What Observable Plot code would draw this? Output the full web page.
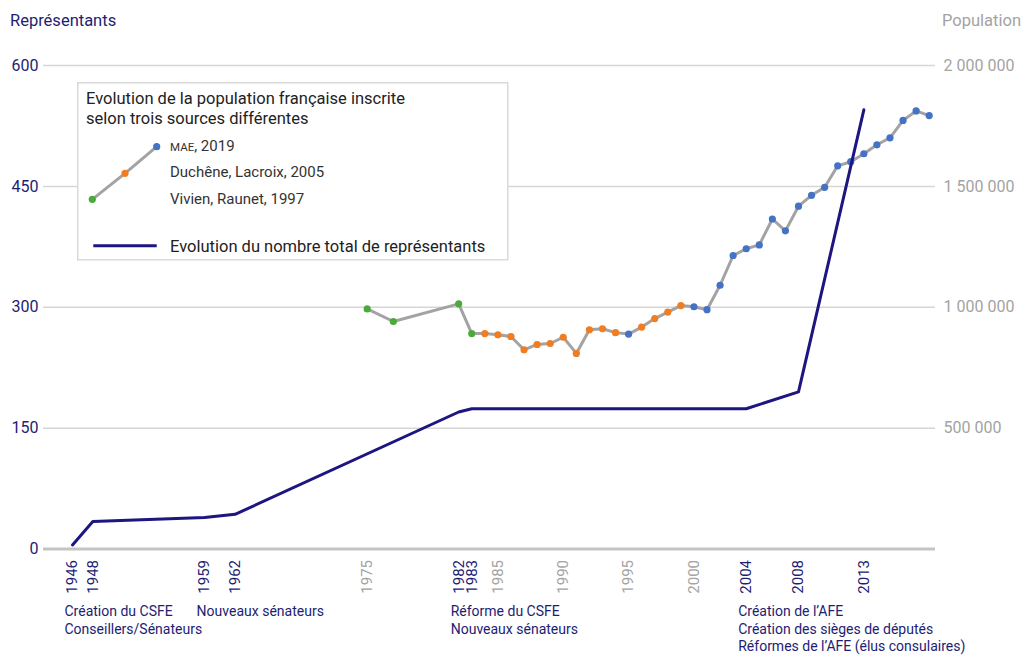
<!DOCTYPE html>
<html><head><meta charset="utf-8">
<script src="https://cdn.jsdelivr.net/npm/d3@7"></script>
<script src="https://cdn.jsdelivr.net/npm/@observablehq/plot@0.6"></script>
<style>
body{margin:0;background:#fff;font-family:Roboto,sans-serif;}
#wrap{position:relative;width:1021px;height:655px;overflow:hidden;}
.axis-title{position:absolute;top:11px;font-size:16.5px;line-height:20px;white-space:nowrap;}
#legend{position:absolute;left:77px;top:82px;}
</style></head><body><div id="wrap"></div>
<script>
// ---- data ----
const repYears  = [1946, 1948, 1959, 1962, 1982, 1983, 2004, 2008, 2013];
const repValues = [5, 34, 39, 43, 170, 174, 174, 195, 545];

const popYears = [1975, 1977, 1982, 1983, 1984, 1985, 1986, 1987, 1988, 1989, 1990, 1991, 1992, 1993, 1994, 1995,
  1996, 1997, 1998, 1999, 2000, 2001, 2002, 2003, 2004, 2005, 2006, 2007, 2008, 2009, 2010, 2011, 2012, 2013,
  2014, 2015, 2016, 2017, 2018];
const popValues = [993000, 941000, 1014000, 891000, 891000, 886000, 879000, 824000, 846000, 850000, 876000, 809000,
  907000, 911000, 895000, 889000, 918000, 953000, 980000, 1007000, 1002000, 990000, 1091000, 1214000, 1242000,
  1258000, 1365000, 1316000, 1418000, 1463000, 1496000, 1585000, 1602000, 1635000, 1672000, 1701000, 1773000,
  1812000, 1793000];
const V = "Vivien, Raunet, 1997", D = "Duchêne, Lacroix, 2005", M = "MAE, 2019";
const popSources = [V, V, V, V, D, D, D, D, D, D, D, D, D, D, D, M, D, D, D, D, M, M, M, M, M, M, M, M, M, M, M,
  M, M, M, M, M, M, M, M];

const sources = [M, D, V];
const sourceColors = ["#4472c4", "#f07d22", "#4caa3c"];

const leftTicks = [0, 150, 300, 450, 600];
const popTicks = [500000, 1000000, 1500000, 2000000];
const eventYears = [1946, 1948, 1959, 1962, 1982, 1983, 2004, 2008, 2013];
const otherYears = [1975, 1985, 1990, 1995, 2000];

const annotationYears = [1946, 1959, 1982, 2004];
const annotationTexts = [
  "Création du CSFE\nConseillers/Sénateurs",
  "Nouveaux sénateurs",
  "Réforme du CSFE\nNouveaux sénateurs",
  "Création de l’AFE\nCréation des sièges de députés\nRéformes de l’AFE (élus consulaires)"
];

// ---- build ----
const navy = "#1d1580";
const navyText = "#231d72";
const grayText = "#a3a3a3";
const popPerRep = 2000000 / 600;
const popData = popYears.map((year, i) => ({year, value: popValues[i] / popPerRep, source: popSources[i]}));
const repData = repYears.map((year, i) => ({year, value: repValues[i]}));
const annotations = annotationYears.map((year, i) => ({year, label: annotationTexts[i]}));
const fmtPop = v => d3.format(",")(Math.round(v * popPerRep)).replace(/,/g, "\u00a0");

const chart = Plot.plot({
  width: 1021, height: 655,
  marginLeft: 43, marginRight: 86, marginTop: 65, marginBottom: 106.5,
  style: {fontFamily: "Roboto, sans-serif", background: "transparent", overflow: "visible"},
  x: {type: "linear", domain: [1946, 1975, 2018], range: [72, 366.7, 928.7]},
  y: {domain: [0, 600]},
  color: {domain: sources, range: sourceColors},
  marks: [
    Plot.ruleY(leftTicks.filter(d => d > 0), {stroke: "#d6d6d6", strokeWidth: 1.5}),
    Plot.ruleY([0], {stroke: "#c4c4c4", strokeWidth: 3}),
    Plot.axisY(leftTicks, {anchor: "left", tickSize: 0, tickPadding: 5, fontSize: 16, fill: navyText, label: null, tickFormat: d => String(d)}),
    Plot.axisY(popTicks.map(v => v / popPerRep), {anchor: "right", tickSize: 0, tickPadding: 8, fontSize: 16, fill: grayText, label: null, tickFormat: fmtPop}),
    Plot.axisX(eventYears, {anchor: "bottom", tickSize: 0, tickPadding: 11, tickRotate: -90, fontSize: 15, fill: navyText, label: null, tickFormat: d => String(d)}),
    Plot.axisX(otherYears, {anchor: "bottom", tickSize: 0, tickPadding: 11, tickRotate: -90, fontSize: 15, fill: grayText, label: null, tickFormat: d => String(d)}),
    Plot.line(popData, {x: "year", y: "value", stroke: "#a3a3a3", strokeWidth: 3}),
    Plot.dot(popData, {x: "year", y: "value", fill: "source", r: 3.6}),
    Plot.line(repData, {x: "year", y: "value", stroke: navy, strokeWidth: 3}),
    Plot.text(annotations, {x: "year", text: "label", frameAnchor: "bottom", dy: 55, dx: -8, textAnchor: "start", lineAnchor: "top", lineHeight: 1.25, fontSize: 14, fill: navyText})
  ]
});

const wrap = document.getElementById("wrap");
wrap.appendChild(chart);

const t1 = document.createElement("div");
t1.className = "axis-title"; t1.style.left = "10px"; t1.style.color = navyText; t1.textContent = "Représentants";
wrap.appendChild(t1);
const t2 = document.createElement("div");
t2.className = "axis-title"; t2.style.right = "0px"; t2.style.color = grayText; t2.textContent = "Population";
wrap.appendChild(t2);

// legend
const lg = d3.create("svg").attr("id", "legend").attr("width", 432).attr("height", 179)
  .style("font-family", "Roboto, sans-serif");
lg.append("rect").attr("x", 0.75).attr("y", 0.75).attr("width", 430).attr("height", 177)
  .attr("fill", "#fff").attr("stroke", "#d9d9d9").attr("stroke-width", 1.5);
lg.append("text").attr("x", 9).attr("y", 21.8).attr("font-size", 16.5).attr("fill", "#222")
  .text("Evolution de la population française inscrite");
lg.append("text").attr("x", 9).attr("y", 41.5).attr("font-size", 16.5).attr("fill", "#222")
  .text("selon trois sources différentes");
const sw = [[15.3, 117.3], [48, 91.3], [79.7, 64.7]];
lg.append("path").attr("d", d3.line()(sw)).attr("stroke", "#a3a3a3").attr("stroke-width", 3).attr("fill", "none");
const swColors = [sourceColors[2], sourceColors[1], sourceColors[0]];
sw.forEach((p, i) => lg.append("circle").attr("cx", p[0]).attr("cy", p[1]).attr("r", 3.6).attr("fill", swColors[i]));
const mae = lg.append("text").attr("x", 93).attr("y", 68.5).attr("font-size", 15).attr("fill", "#333");
mae.append("tspan").attr("font-size", 11.5).text("MAE");
mae.append("tspan").text(", 2019");
lg.append("text").attr("x", 93).attr("y", 95).attr("font-size", 15).attr("fill", "#333").text(D);
lg.append("text").attr("x", 93).attr("y", 121.5).attr("font-size", 15).attr("fill", "#333").text(V);
lg.append("line").attr("x1", 16.3).attr("x2", 79.7).attr("y1", 163.7).attr("y2", 163.7)
  .attr("stroke", navy).attr("stroke-width", 3);
lg.append("text").attr("x", 93).attr("y", 169.5).attr("font-size", 16.5).attr("fill", "#222")
  .text("Evolution du nombre total de représentants");
wrap.appendChild(lg.node());
</script></body></html>
